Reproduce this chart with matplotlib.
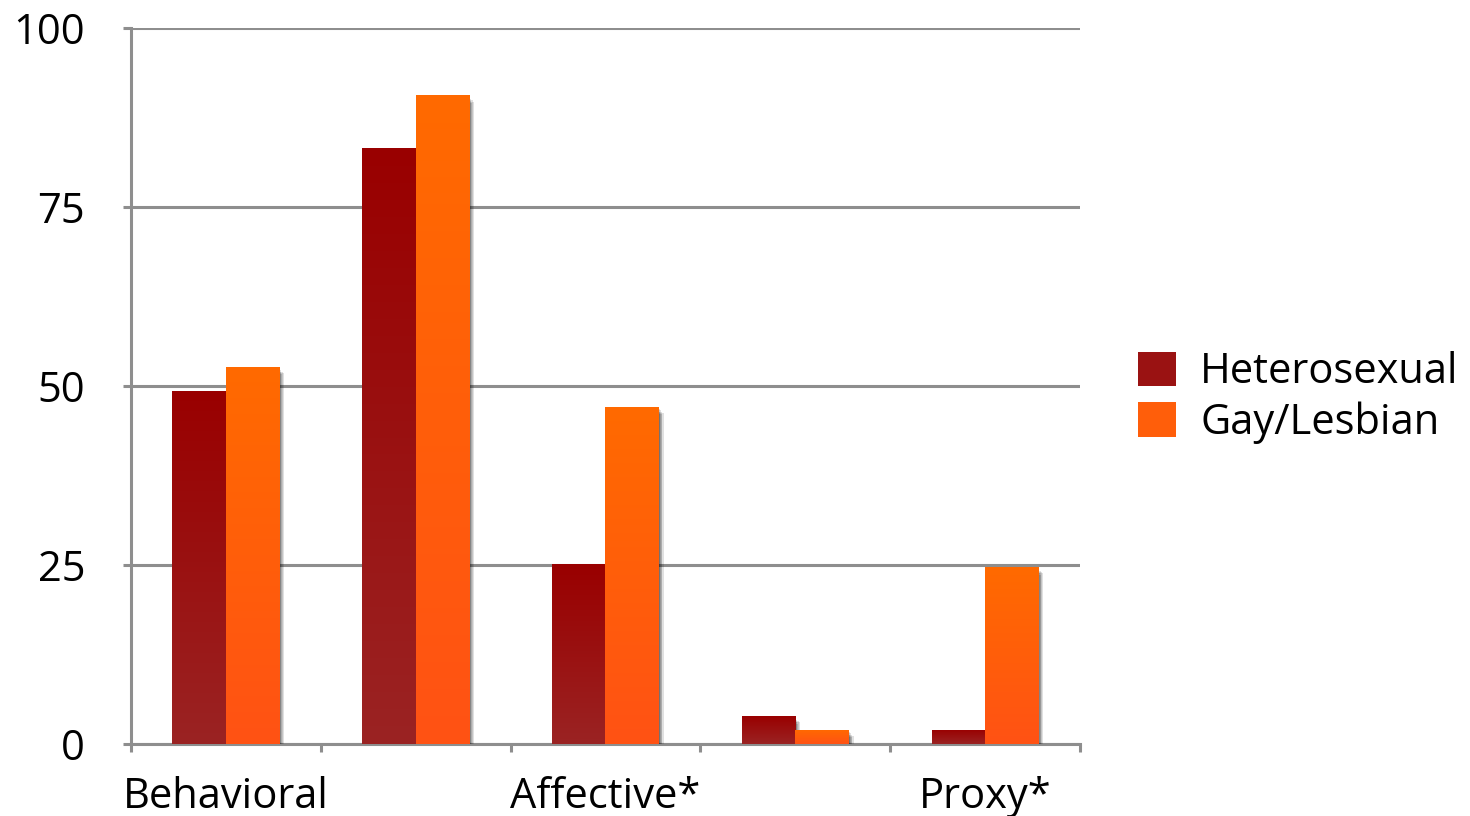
import numpy as np
import matplotlib
matplotlib.use("Agg")
import matplotlib.pyplot as plt
import matplotlib.patheffects as pe
from matplotlib.colors import LinearSegmentedColormap
from matplotlib.patches import Patch

# Data
categories = ["Behavioral", "", "Affective*", "", "Proxy*"]
series_names = ["Heterosexual", "Gay/Lesbian"]
heterosexual = [49.3, 83.2, 25.1, 3.9, 2.0]
gay_lesbian = [52.7, 90.6, 47.1, 2.0, 24.7]
y_ticks = [0, 25, 50, 75, 100]

plt.rcParams["font.family"] = ["Open Sans", "DejaVu Sans"]
FS = 30

fig = plt.figure(figsize=(14.7, 8.16), dpi=100)
ax = fig.add_axes([0.0891, 0.0882, 0.6456, 0.8775])

grid_col = "#8e8e8e"
x = np.arange(len(categories))
w = 0.282

gradients = [
    ("#990000", "#9b2323"),  # top, bottom
    ("#ff6a00", "#ff5214"),
]

shadow_fx = [
    pe.SimplePatchShadow(offset=(dx, -dy), shadow_rgbFace="black", alpha=0.12)
    for dx, dy in [(0.5, 1.5), (1.5, 2.5), (2.5, 3.5), (3.5, 4.5), (2, 5.5), (1, 4)]
] + [pe.Normal()]

for i, (vals, (ctop, cbot)) in enumerate(zip([heterosexual, gay_lesbian], gradients)):
    offs = (i - 0.5) * w
    bars = ax.bar(x + offs, vals, width=w, color=cbot, zorder=3, linewidth=0)
    cmap = LinearSegmentedColormap.from_list(f"g{i}", [cbot, ctop])
    grad = np.linspace(0, 1, 256).reshape(-1, 1)
    for b in bars:
        b.set_path_effects(shadow_fx)
        x0, y0 = b.get_x(), b.get_y()
        x1, y1 = x0 + b.get_width(), y0 + b.get_height()
        im = ax.imshow(grad, cmap=cmap, origin="lower", aspect="auto",
                       extent=(x0, x1, y0, y1), zorder=4, interpolation="bicubic")
        im.set_clip_path(b)

ax.set_xlim(-0.5, len(categories) - 0.5)
ax.set_ylim(0, 100)

ax.set_yticks(y_ticks)
ax.set_yticklabels([str(t) for t in y_ticks])
ax.yaxis.grid(True, color=grid_col, linewidth=2.2, zorder=0)
ax.set_axisbelow(True)

ax.set_xticks(x)
ax.set_xticklabels(categories)
ax.set_xticks(np.arange(-0.5, len(categories)), minor=True)
ax.tick_params(axis="x", which="major", length=0, pad=23, labelsize=FS)
ax.tick_params(axis="x", which="minor", length=6, width=2.2, color=grid_col, direction="out")
ax.tick_params(axis="y", which="major", length=6, width=2.2, color=grid_col,
               pad=27, labelsize=FS)

for side in ["top", "right"]:
    ax.spines[side].set_visible(False)
for side in ["left", "bottom"]:
    ax.spines[side].set_color(grid_col)
    ax.spines[side].set_linewidth(2.2)

handles = [Patch(facecolor="#9a1212", edgecolor="none"),
           Patch(facecolor="#ff5e0a", edgecolor="none")]
fig.legend(handles, series_names, loc="center left", bbox_to_anchor=(0.7487, 0.5125),
           frameon=False, fontsize=FS, handlelength=0.91, handleheight=0.91,
           handletextpad=0.58, labelspacing=0.2)

fig.savefig("out.png", dpi=100, facecolor="white")
